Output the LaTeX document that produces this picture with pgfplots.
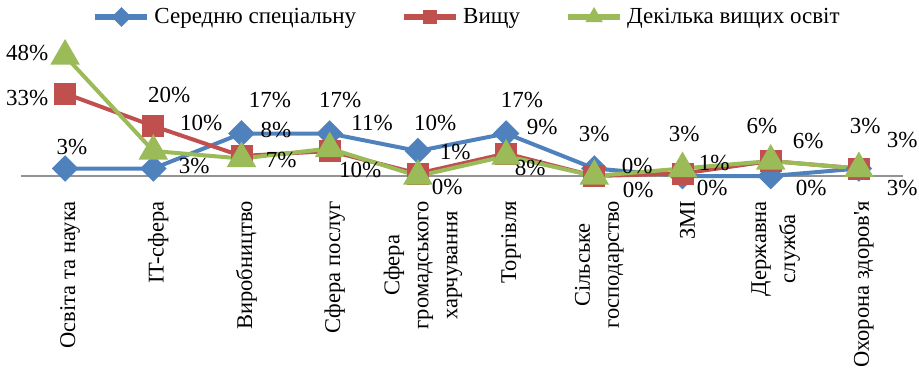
\documentclass[border=0pt]{standalone}
\usepackage{fontspec}
\setmainfont{Liberation Serif}
\usepackage{pgfplots}
\pgfplotsset{compat=1.18}
\definecolor{cblue}{HTML}{4F81BD}
\definecolor{cred}{HTML}{C0504D}
\definecolor{cgreen}{HTML}{9BBB59}
\begin{document}
\begin{tikzpicture}
\path[use as bounding box] (-21pt,-192pt) rectangle (898pt,176pt);
\begin{axis}[
  scale only axis, width=882pt, height=125pt,
  xmin=-0.5, xmax=9.5, ymin=0, ymax=50,
  axis y line=none,
  axis x line*=bottom,
  x axis line style={draw=gray!85, line width=1.5pt, -},
  xtick={0,...,9}, major tick length=0pt,
  xticklabels={Освіта та наука, IT-сфера, Виробництво, Сфера послуг, {Сфера\\громадського\\харчування}, Торгівля, {Сільське\\господарство}, ЗМІ, {Державна\\служба}, {Охорона здоров{\addfontfeatures{Ligatures=TeXOff}'}я}},
  xticklabel style={xshift=5pt, rotate=90, anchor=east, align=center, font=\fontsize{22.5}{29}\selectfont, inner sep=0pt},
  xticklabel shift=25pt,
  clip=false,
  legend columns=3,
  legend style={at={(0.5057,1.272)}, anchor=center, draw=none, fill=none, font=\fontsize{23}{26}\selectfont, /tikz/every even column/.append style={column sep=43pt}, /tikz/every odd column/.append style={column sep=2pt}},
  legend image code/.code={\draw[line width=6pt, mark repeat=2,mark phase=2,mark size=4pt] plot coordinates {(0pt,0pt) (26pt,0pt) (52pt,0pt)};},
]
\addplot[cblue, line width=4pt, mark=square*, mark size=7.4pt, mark options={rotate=45}] coordinates {(0,3)(1,3)(2,17)(3,17)(4,10)(5,17)(6,3)(7,0)(8,0)(9,3)};
\addlegendentry{Середню спеціальну}
\addplot[cred, line width=4pt, mark=square*, mark size=9pt] coordinates {(0,33)(1,20)(2,8)(3,10)(4,1)(5,9)(6,0)(7,1)(8,6)(9,3)};
\addlegendentry{Вищу}
\addplot[cgreen, line width=4pt, mark=triangle*, mark size=13pt] coordinates {(0,48)(1,10)(2,7)(3,11)(4,0)(5,8)(6,0)(7,3)(8,6)(9,3)};
\addlegendentry{Декілька вищих освіт}
\tikzset{lbl/.style={font=\fontsize{23}{26}\selectfont, inner sep=0pt}}
\node[lbl] at (axis cs:-0.431,49.2) {48\%};
\node[lbl] at (axis cs:-0.431,31.2) {33\%};
\node[lbl] at (axis cs:0.079,11.6) {3\%};
\node[lbl] at (axis cs:1.179,32.4) {20\%};
\node[lbl] at (axis cs:1.542,21.2) {10\%};
\node[lbl] at (axis cs:1.463,4.0) {3\%};
\node[lbl] at (axis cs:2.324,30.4) {17\%};
\node[lbl] at (axis cs:2.392,18.4) {8\%};
\node[lbl] at (axis cs:2.449,6.4) {7\%};
\node[lbl] at (axis cs:3.118,30.4) {17\%};
\node[lbl] at (axis cs:3.481,21.2) {11\%};
\node[lbl] at (axis cs:3.345,2.4) {10\%};
\node[lbl] at (axis cs:4.195,21.2) {10\%};
\node[lbl] at (axis cs:4.422,9.6) {1\%};
\node[lbl] at (axis cs:4.331,-4.4) {0\%};
\node[lbl] at (axis cs:5.181,30.4) {17\%};
\node[lbl] at (axis cs:5.408,19.6) {9\%};
\node[lbl] at (axis cs:5.272,3.2) {8\%};
\node[lbl] at (axis cs:5.998,16.8) {3\%};
\node[lbl] at (axis cs:6.485,4.0) {0\%};
\node[lbl] at (axis cs:6.497,-5.6) {0\%};
\node[lbl] at (axis cs:7.018,16.8) {3\%};
\node[lbl] at (axis cs:7.358,5.2) {1\%};
\node[lbl] at (axis cs:7.336,-4.8) {0\%};
\node[lbl] at (axis cs:7.902,20) {6\%};
\node[lbl] at (axis cs:8.424,14) {6\%};
\node[lbl] at (axis cs:8.458,-4.8) {0\%};
\node[lbl] at (axis cs:9.070,20) {3\%};
\node[lbl] at (axis cs:9.490,14.4) {3\%};
\node[lbl] at (axis cs:9.490,-4.8) {3\%};
\end{axis}
\end{tikzpicture}
\end{document}
